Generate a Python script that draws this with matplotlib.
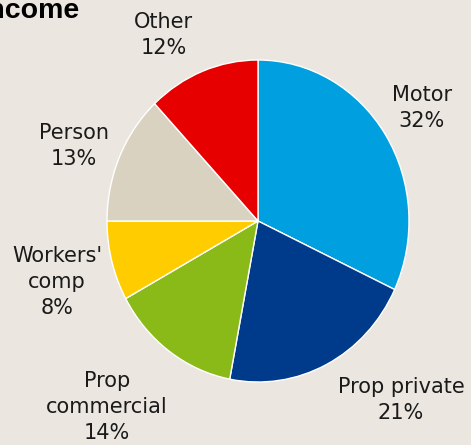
import matplotlib
matplotlib.use('Agg')
import matplotlib.pyplot as plt

# data
categories = ['Motor', 'Prop private', 'Prop\ncommercial', "Workers'\ncomp", 'Person', 'Other']
shares = [32, 21, 14, 8, 13, 12]
colors = ['#009fe0', '#003a8b', '#8aba18', '#ffcc00', '#d9d2c1', '#e60000']

# where each label sits, in pie units (radius = 1)
label_xy = [(1.086, 0.702), (0.947, -1.112), (-1.0, -1.155),
            (-1.331, -0.379), (-1.219, 0.466), (-0.623, 1.155)]

bg = '#ebe7e0'
W, H = 471, 445
fig = plt.figure(figsize=(W / 100, H / 100), dpi=100, facecolor=bg)

# pie is slightly taller than wide in the reference
cx, cy, rx, ry = 258, 221, 151, 161
ax = fig.add_axes([(cx - rx) / W, (H - cy - ry) / H, 2 * rx / W, 2 * ry / H])
ax.set_facecolor(bg)
ax.pie(shares, colors=colors, startangle=90, counterclock=False,
       wedgeprops=dict(edgecolor='white', linewidth=1.0))
ax.set_aspect('auto')
ax.set_xlim(-1, 1)
ax.set_ylim(-1, 1)
ax.axis('off')

for cat, s, (x, y) in zip(categories, shares, label_xy):
    ax.text(x, y, f'{cat}\n{s}%', ha='center', va='center', fontsize=15,
            color='#1a1a1a', linespacing=1.4, family='DejaVu Sans', clip_on=False)

# title runs off the left edge, as in the reference
fig.text(79 / W, 1 - 17.5 / H, 'Premium income', ha='right', va='baseline',
         fontsize=20.5, fontweight='bold', family='Liberation Sans', color='black')

fig.savefig('out.png', dpi=100, facecolor=bg)
